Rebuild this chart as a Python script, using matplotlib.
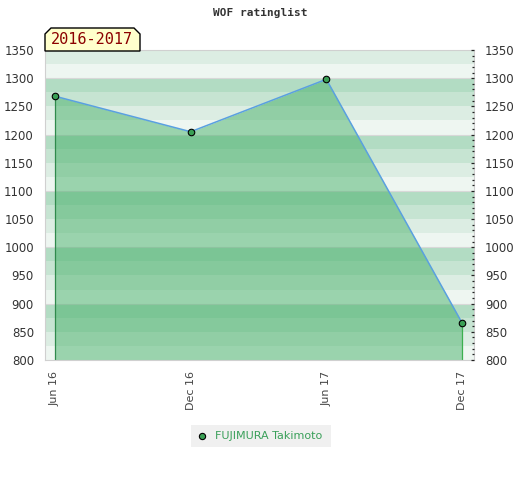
import matplotlib
matplotlib.use('Agg')
import matplotlib.pyplot as plt
import matplotlib.ticker as mticker
from matplotlib.patches import Polygon, Rectangle
import numpy as np

# data
dates = ['Jun 16', 'Dec 16', 'Jun 17', 'Dec 17']
ratings = [1268, 1205, 1298, 866]
player = 'FUJIMURA Takimoto'
season = '2016-2017'
y_min, y_max = 800, 1350

# background bands, period of 100: [00-25], [25-50], [50-75], [75-100]
BAND_COLORS = ['#eef6f1', '#dcede3', '#c6e4d2', '#b2dcc3']
FILL = '#3fad63'
LINE = '#5aa0e0'
MARKER = '#3aa055'

fig = plt.figure(figsize=(5.2, 4.8), dpi=100)
ax = fig.add_axes([45 / 520, 1 - 360 / 480, 429 / 520, 310 / 480])

x = np.arange(len(dates))
ax.set_xlim(-10 / 135.67, 3 + 12 / 135.67)
ax.set_ylim(y_min, y_max)

for lo in range(y_min, y_max, 25):
    ax.axhspan(lo, lo + 25, color=BAND_COLORS[(lo % 100) // 25], lw=0, zorder=0)
for g in range(y_min + 100, y_max, 100):
    ax.axhline(g, color='#d8d8d8', lw=0.8, zorder=0.5)

ax.fill_between(x, ratings, y_min, color=FILL, alpha=0.48, lw=0, zorder=1)
ax.plot(x, ratings, color=LINE, lw=1.1, zorder=2)
ax.plot([x[0], x[0]], [y_min, ratings[0]], color='#2f8a4c', lw=0.9, zorder=2)
ax.plot([x[-1], x[-1]], [y_min, ratings[-1]], color='#3cb04f', lw=0.9, zorder=2)
ax.scatter(x, ratings, s=22, color=MARKER, edgecolor='black', lw=0.8, zorder=3)

for s in ax.spines.values():
    s.set_color('#d0d0d0')
ax.set_xticks(x)
ax.set_xticklabels(dates, rotation=90, fontsize=8, color='#444444')
ax.tick_params(axis='x', length=0, pad=8)
ax.set_yticks(range(y_min, y_max + 1, 50))
ax.tick_params(axis='y', length=0, labelsize=8.5, labelcolor='#333333', pad=8)

ax2 = ax.twinx()
ax2.set_ylim(y_min, y_max)
ax2.set_yticks(range(y_min, y_max + 1, 50))
ax2.yaxis.set_minor_locator(mticker.MultipleLocator(10))
ax2.tick_params(axis='y', which='major', length=2.5, width=0.9, direction='in',
                color='#222222', labelsize=8.5, labelcolor='#333333', pad=8)
ax2.tick_params(axis='y', which='minor', length=1.5, width=0.9, direction='in',
                color='#222222')
for s in ax2.spines.values():
    s.set_visible(False)

fig.text(260 / 520, 1 - 13 / 480, 'WOF ratinglist', ha='center', va='center',
         fontsize=8, fontweight='bold', family='DejaVu Sans Mono', color='#333333')

# season tag with chamfered top corners
x0, x1, y0, y1, c = 45, 140, 51, 28, 6
pts = [(x0, y0), (x0, y1 + c), (x0 + c, y1), (x1 - c, y1), (x1, y1 + c), (x1, y0)]
pts = [(px / 520, 1 - py / 480) for px, py in pts]
fig.patches.append(Polygon(pts, closed=True, transform=fig.transFigure,
                           facecolor='#ffffcc', edgecolor='black', lw=1))
fig.text(92 / 520, 1 - 40 / 480, season, ha='center', va='center', fontsize=11,
         family='DejaVu Sans Mono', color='#8b0000')

# legend box
fig.patches.append(Rectangle((191 / 520, 1 - 447 / 480), 140 / 520, 22 / 480,
                             transform=fig.transFigure, facecolor='#f0f0f0', lw=0))
fig.lines.append(plt.Line2D([202 / 520], [1 - 436 / 480], transform=fig.transFigure,
                            marker='o', markersize=4.5, markerfacecolor=MARKER,
                            markeredgecolor='black', markeredgewidth=0.8, ls='none'))
fig.text(215 / 520, 1 - 436 / 480, player, ha='left', va='center', fontsize=8,
         color='#3aa05a')

fig.savefig('out.png', dpi=100)
